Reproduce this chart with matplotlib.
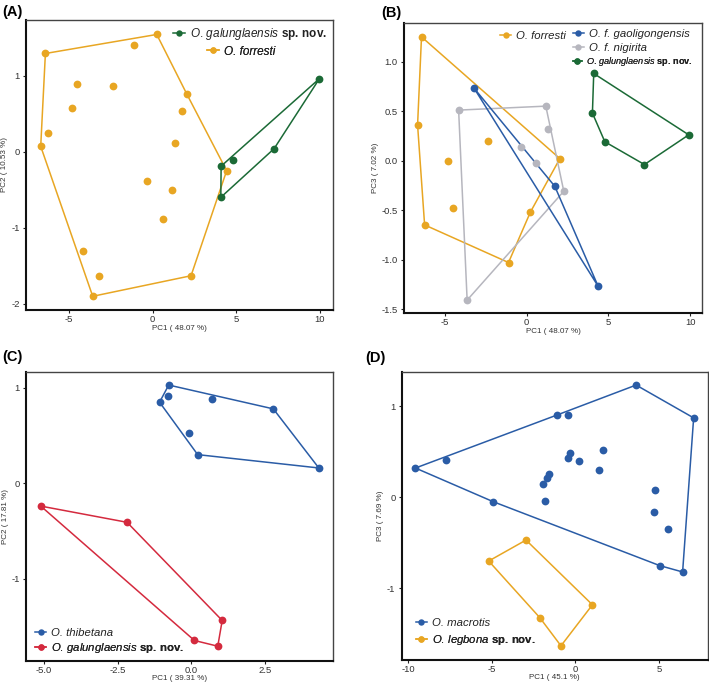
import matplotlib
matplotlib.use("Agg")
import matplotlib.pyplot as plt
from matplotlib.lines import Line2D
from matplotlib.ticker import FixedLocator, FixedFormatter

plt.rcParams['font.family'] = ['Liberation Sans', 'DejaVu Sans']
plt.rcParams['mathtext.fontset'] = 'custom'
plt.rcParams['mathtext.rm'] = 'Liberation Sans'
plt.rcParams['mathtext.it'] = 'Liberation Sans:italic'
plt.rcParams['mathtext.bf'] = 'Liberation Sans:bold'

ORANGE = '#E8A623'
GREEN = '#1B6A36'
BLUE = '#2A5CA6'
GREY = '#B6B6BE'
RED = '#D42A3E'

# ---------------- data ----------------
# Panel A (PC1 vs PC2)
a_forresti_x = [0.24, -6.42, -1.10, -4.54, -2.35, -4.82, 2.03, 1.73, -6.28, -6.70,
                1.36, 4.42, -0.32, 1.16, 0.60, -4.15, -3.21, -3.59, 2.29]
a_forresti_y = [1.54, 1.29, 1.40, 0.89, 0.86, 0.58, 0.76, 0.54, 0.24, 0.07,
                0.11, -0.25, -0.38, -0.51, -0.88, -1.30, -1.63, -1.90, -1.63]
a_forresti_hull = [0, 6, 11, 18, 17, 9, 1]
a_galung_x = [9.97, 7.26, 4.82, 4.09, 4.07]
a_galung_y = [0.96, 0.04, -0.11, -0.19, -0.60]
a_galung_hull = [0, 1, 4, 3]

# Panel B (PC1 vs PC3)
b_forresti_x = [-6.42, -6.66, -6.23, -4.81, -4.52, -2.34, -1.10, 0.24, 2.04]
b_forresti_y = [1.25, 0.36, -0.65, 0.00, -0.48, 0.20, -1.03, -0.52, 0.02]
b_forresti_hull = [0, 8, 7, 6, 2, 1]
b_gaoli_x = [-3.20, 1.73, 4.38]
b_gaoli_y = [0.73, -0.26, -1.27]
b_gaoli_hull = [0, 1, 2]
b_nigirita_x = [-4.15, 1.18, 1.34, -0.31, 0.61, 2.28, -3.63]
b_nigirita_y = [0.51, 0.55, 0.32, 0.14, -0.02, -0.31, -1.41]
b_nigirita_hull = [0, 1, 5, 6]
b_galung_x = [4.11, 4.03, 4.79, 7.21, 9.92]
b_galung_y = [0.88, 0.48, 0.19, -0.04, 0.26]
b_galung_hull = [0, 4, 3, 2, 1]

# Panel C (PC1 vs PC2)
c_thib_x = [-0.77, -0.79, -1.08, 0.71, -0.07, 0.21, 2.77, 4.31]
c_thib_y = [1.03, 0.92, 0.85, 0.88, 0.53, 0.30, 0.78, 0.16]
c_thib_hull = [0, 6, 7, 5, 2]
c_galung_x = [-5.10, -2.18, 1.04, 0.89, 0.10]
c_galung_y = [-0.24, -0.41, -1.44, -1.71, -1.65]
c_galung_hull = [0, 1, 2, 3, 4]

# Panel D (PC1 vs PC3)
d_macro_x = [-9.56, -7.71, -4.90, -1.12, -0.44, 3.63, 7.07, 6.41, 5.04, 5.56, 4.70,
             4.78, 1.67, 1.43, 0.20, -0.32, -0.42, -1.57, -1.71, -1.91, -1.81]
d_macro_y = [0.32, 0.41, -0.05, 0.90, 0.90, 1.23, 0.87, -0.82, -0.75, -0.35, -0.16,
             0.08, 0.52, 0.30, 0.40, 0.48, 0.43, 0.26, 0.21, 0.15, -0.04]
d_macro_hull = [0, 3, 5, 6, 7, 8, 2]
d_leg_x = [-5.18, -2.95, 1.02, -2.13, -0.86]
d_leg_y = [-0.70, -0.47, -1.18, -1.32, -1.63]
d_leg_hull = [0, 1, 2, 4, 3]

# axes ticks
a_xticks = [-5, 0, 5, 10]
a_xlabels = ['-5', '0', '5', '10']
a_yticks = [-2, -1, 0, 1]
a_ylabels = ['-2', '-1', '0', '1']
b_yticks = [-1.5, -1.0, -0.5, 0.0, 0.5, 1.0]
b_ylabels = ['-1.5', '-1.0', '-0.5', '0.0', '0.5', '1.0']
c_xticks = [-5.0, -2.5, 0.0, 2.5]
c_xlabels = ['-5.0', '-2.5', '0.0', '2.5']
c_yticks = [-1, 0, 1]
c_ylabels = ['-1', '0', '1']
d_xticks = [-10, -5, 0, 5]
d_xlabels = ['-10', '-5', '0', '5']
d_yticks = [-1, 0, 1]
d_ylabels = ['-1', '0', '1']

# ---------------- drawing ----------------
W, H = 709, 685
fig = plt.figure(figsize=(W / 100, H / 100), dpi=100)


def make_ax(l, t, r, b):
    return fig.add_axes([l / W, 1 - b / H, (r - l) / W, (b - t) / H])


def style(ax, xlim, ylim, xt, xl, yt, yl, xlabel, ylabel):
    ax.set_xlim(*xlim)
    ax.set_ylim(*ylim)
    ax.xaxis.set_major_locator(FixedLocator(xt))
    ax.xaxis.set_major_formatter(FixedFormatter(xl))
    ax.yaxis.set_major_locator(FixedLocator(yt))
    ax.yaxis.set_major_formatter(FixedFormatter(yl))
    ax.tick_params(axis='both', length=2.5, width=0.8, labelsize=6.8,
                   colors='#222222', labelcolor='#333333')
    ax.tick_params(axis='x', pad=1.2)
    ax.tick_params(axis='y', pad=2)
    for s in ['top', 'right']:
        ax.spines[s].set_linewidth(1.0)
        ax.spines[s].set_color('#444444')
    for s in ['bottom', 'left']:
        ax.spines[s].set_linewidth(1.5)
        ax.spines[s].set_color('#111111')
    ax.set_xlabel(xlabel, fontsize=5.8, color='#333333', labelpad=0.3)
    ax.set_ylabel(ylabel, fontsize=5.8, color='#333333', labelpad=2)


def group(ax, xs, ys, hull, color):
    hx = [xs[i] for i in hull] + [xs[hull[0]]]
    hy = [ys[i] for i in hull] + [ys[hull[0]]]
    ax.plot(hx, hy, color=color, lw=1.1, zorder=2)
    ax.plot(xs, ys, 'o', color=color, ms=5.6, mec='none', zorder=3)


def key(ax, x, y, color, label, fs=8.2, italic=False):
    h = Line2D([], [], color=color, lw=1.1, marker='o', ms=4.6, mec='none')
    prop = {'size': fs, 'style': 'italic' if italic else 'normal'}
    leg = ax.legend([h], [label], loc='center left', bbox_to_anchor=(x, y),
                    frameon=False, prop=prop, borderpad=0, borderaxespad=0,
                    handlelength=1.0, handletextpad=0.4, labelcolor='#222222')
    ax.add_artist(leg)
    return leg


GAL = r'$\it{O.\,galunglaensis}$ $\bf{sp.\,nov.}$'

# Panel A
axA = make_ax(26, 20, 333, 310)
group(axA, a_forresti_x, a_forresti_y, a_forresti_hull, ORANGE)
group(axA, a_galung_x, a_galung_y, a_galung_hull, GREEN)
style(axA, (-7.58, 10.78), (-2.08, 1.73), a_xticks, a_xlabels, a_yticks, a_ylabels,
      'PC1 ( 48.07 %)', 'PC2 ( 10.53 %)')
key(axA, 0.479, 0.952, GREEN, GAL, fs=8.5)
key(axA, 0.590, 0.891, ORANGE, 'O. forresti', fs=8.5, italic=True)

# Panel B
axB = make_ax(404, 23, 702, 313)
group(axB, b_forresti_x, b_forresti_y, b_forresti_hull, ORANGE)
group(axB, b_nigirita_x, b_nigirita_y, b_nigirita_hull, GREY)
group(axB, b_gaoli_x, b_gaoli_y, b_gaoli_hull, BLUE)
group(axB, b_galung_x, b_galung_y, b_galung_hull, GREEN)
style(axB, (-7.49, 10.73), (-1.54, 1.39), a_xticks, a_xlabels, b_yticks, b_ylabels,
      'PC1 ( 48.07 %)', 'PC3 ( 7.02 %)')
key(axB, 0.322, 0.956, ORANGE, 'O. forresti', fs=8.2, italic=True)
key(axB, 0.566, 0.963, BLUE, 'O. f. gaoligongensis', fs=8.2, italic=True)
key(axB, 0.566, 0.914, GREY, 'O. f. nigirita', fs=8.2, italic=True)
key(axB, 0.566, 0.866, GREEN, GAL, fs=6.6)

# Panel C
axC = make_ax(26, 371.7, 333, 660.5)
group(axC, c_thib_x, c_thib_y, c_thib_hull, BLUE)
group(axC, c_galung_x, c_galung_y, c_galung_hull, RED)
style(axC, (-5.60, 4.79), (-1.86, 1.17), c_xticks, c_xlabels, c_yticks, c_ylabels,
      'PC1 ( 39.31 %)', 'PC2 ( 17.81 %)')
key(axC, 0.029, 0.0955, BLUE, 'O. thibetana', italic=True)
key(axC, 0.029, 0.043, RED, GAL)

# Panel D
axD = make_ax(401.7, 372.3, 707.7, 659.5)
group(axD, d_macro_x, d_macro_y, d_macro_hull, BLUE)
group(axD, d_leg_x, d_leg_y, d_leg_hull, ORANGE)
style(axD, (-10.38, 7.91), (-1.78, 1.37), d_xticks, d_xlabels, d_yticks, d_ylabels,
      'PC1 ( 45.1 %)', 'PC3 ( 7.69 %)')
key(axD, 0.046, 0.126, BLUE, 'O. macrotis', italic=True)
key(axD, 0.046, 0.069, ORANGE, r'$\it{O.\,legbona}$ $\bf{sp.\,nov.}$')

# Panel letters
for txt, x, y in [('(A)', 2, 12), ('(B)', 381, 13), ('(C)', 2, 357), ('(D)', 365, 358)]:
    fig.text(x / W, 1 - y / H, txt, fontsize=10.5, fontweight='bold', va='center', ha='left')

fig.savefig('out.png', dpi=100)
